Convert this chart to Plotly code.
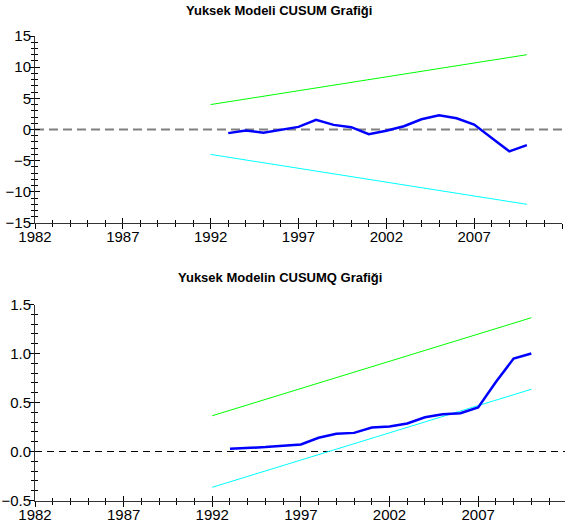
import plotly.graph_objects as go

# ---- data ----
years = list(range(1993, 2011))
cusum = [-0.58, -0.16, -0.53, -0.05, 0.42, 1.54, 0.74, 0.37, -0.74, -0.21,
         0.53, 1.65, 2.29, 1.81, 0.80, -1.36, -3.50, -2.50]
cusumsq = [0.028, 0.035, 0.045, 0.058, 0.071, 0.14, 0.18, 0.19, 0.245, 0.255,
           0.286, 0.35, 0.38, 0.39, 0.45, 0.71, 0.948, 1.0]

bound_years = [1992, 2010]
cusum_upper = [4, 12]
cusum_lower = [-4, -12]
cusumsq_upper = [0.365, 1.365]
cusumsq_lower = [-0.365, 0.635]

title_top = "Yuksek Modeli CUSUM Grafiği"
title_bottom = "Yuksek Modelin CUSUMQ Grafiği"

W, H = 565, 525
L, R = 35, 0
PW = W - L - R

fig = go.Figure()

# top
fig.add_trace(go.Scatter(x=bound_years, y=cusum_upper, mode="lines",
                         line=dict(color="#00FF00", width=1), xaxis="x", yaxis="y"))
fig.add_trace(go.Scatter(x=bound_years, y=cusum_lower, mode="lines",
                         line=dict(color="#00FFFF", width=1), xaxis="x", yaxis="y"))
fig.add_trace(go.Scatter(x=years, y=cusum, mode="lines",
                         line=dict(color="#0000FF", width=2.5), xaxis="x", yaxis="y"))
# bottom
fig.add_trace(go.Scatter(x=bound_years, y=cusumsq_upper, mode="lines",
                         line=dict(color="#00FF00", width=1), xaxis="x2", yaxis="y2"))
fig.add_trace(go.Scatter(x=bound_years, y=cusumsq_lower, mode="lines",
                         line=dict(color="#00FFFF", width=1), xaxis="x2", yaxis="y2"))
fig.add_trace(go.Scatter(x=years, y=cusumsq, mode="lines",
                         line=dict(color="#0000FF", width=2.5), xaxis="x2", yaxis="y2"))

# invisible carrier traces so that the tick-only overlay axes get drawn
for xa, ya, yv in [("x3", "y3", cusum), ("x5", "y5", cusum), ("x7", "y7", cusum),
                   ("x4", "y4", cusumsq), ("x6", "y6", cusumsq), ("x8", "y8", cusumsq)]:
    fig.add_trace(go.Scatter(x=years, y=yv, mode="lines", opacity=0,
                             line=dict(width=0.1, color="white"), hoverinfo="skip",
                             xaxis=xa, yaxis=ya))

# zero reference lines
fig.add_shape(type="line", xref="x domain", yref="y", x0=0, x1=1, y0=0, y1=0,
              line=dict(color="#808080", width=2, dash="9px,5px"), layer="below")
fig.add_shape(type="line", xref="x2 domain", yref="y2", x0=0, x1=1, y0=0, y1=0,
              line=dict(color="#000000", width=1, dash="7px,5px"), layer="below")

tickfont = dict(family="Liberation Sans, Arial, sans-serif", size=15, color="#000000")
AXC = "#000000"


def main_axis(**kw):
    d = dict(showline=True, linecolor="#333333", linewidth=1, showgrid=False,
             zeroline=False, ticks="outside", ticklen=5, tickcolor=AXC,
             tickwidth=1, tickfont=tickfont, automargin=False, fixedrange=True)
    d.update(kw)
    return d


def tick_axis(ticks, ticklen, **kw):
    d = dict(showline=False, showgrid=False, zeroline=False, ticks=ticks,
             ticklen=ticklen, tickcolor=AXC, tickwidth=1, showticklabels=False,
             automargin=False, fixedrange=True)
    d.update(kw)
    return d


top_dom = [(H - 223) / H, (H - 36) / H]
bot_dom = [(H - 500.5) / H, (H - 304.5) / H]
top_xdom = [0, (562 - L) / PW]
bot_xdom = [0, 1]

xr_top = [1982, 2012]
xr_bot = [1982, 2011.9]
yr_top = [-15, 15]
yr_bot = [-0.5, 1.5]

fig.update_layout(
    width=W, height=H,
    margin=dict(l=L, r=R, t=0, b=0),
    paper_bgcolor="white", plot_bgcolor="white",
    showlegend=False,
    # ---- top panel ----
    xaxis=main_axis(domain=top_xdom, anchor="y", range=xr_top, tick0=1982, dtick=5,
                    ticklabelstandoff=-5),
    yaxis=main_axis(domain=top_dom, anchor="x", range=yr_top, tick0=0, dtick=5,
                    ticklabelstandoff=-5),
    xaxis3=tick_axis("inside", 5, overlaying="x", anchor="y", range=xr_top, tick0=1982, dtick=5),
    yaxis3=tick_axis("inside", 5, overlaying="y", anchor="x", range=yr_top, tick0=0, dtick=5),
    xaxis5=tick_axis("outside", 3, overlaying="x", anchor="y", range=xr_top, tick0=1982, dtick=1),
    yaxis5=tick_axis("outside", 3, overlaying="y", anchor="x", range=yr_top, tick0=0, dtick=1),
    xaxis7=tick_axis("inside", 3, overlaying="x", anchor="y", range=xr_top, tick0=1982, dtick=1),
    yaxis7=tick_axis("inside", 3, overlaying="y", anchor="x", range=yr_top, tick0=0, dtick=1),
    # ---- bottom panel ----
    xaxis2=main_axis(domain=bot_xdom, anchor="y2", range=xr_bot, tick0=1982, dtick=5,
                     ticklabelstandoff=-5),
    yaxis2=main_axis(domain=bot_dom, anchor="x2", range=yr_bot, tick0=0, dtick=0.5,
                     ticklabelstandoff=-5, tickformat=".1f"),
    xaxis4=tick_axis("inside", 5, overlaying="x2", anchor="y2", range=xr_bot, tick0=1982, dtick=5),
    yaxis4=tick_axis("inside", 5, overlaying="y2", anchor="x2", range=yr_bot, tick0=0, dtick=0.5),
    xaxis6=tick_axis("outside", 3, overlaying="x2", anchor="y2", range=xr_bot, tick0=1982, dtick=1),
    yaxis6=tick_axis("outside", 3, overlaying="y2", anchor="x2", range=yr_bot, tick0=0, dtick=0.1),
    xaxis8=tick_axis("inside", 3, overlaying="x2", anchor="y2", range=xr_bot, tick0=1982, dtick=1),
    yaxis8=tick_axis("inside", 3, overlaying="y2", anchor="x2", range=yr_bot, tick0=0, dtick=0.1),
)

titlefont = dict(family="Liberation Sans, Arial, sans-serif", size=13, color="#000000")
fig.add_annotation(text="<b>" + title_top + "</b>", xref="paper", yref="paper",
                   x=(279 - L) / PW, y=(H - 11) / H, showarrow=False,
                   xanchor="center", yanchor="middle", font=titlefont)
fig.add_annotation(text="<b>" + title_bottom + "</b>", xref="paper", yref="paper",
                   x=(280 - L) / PW, y=(H - 277) / H, showarrow=False,
                   xanchor="center", yanchor="middle", font=titlefont)

fig.write_html(
    "out.html",
    config={"displayModeBar": False},
    post_script="document.body.style.margin='0px';document.body.style.overflow='hidden';",
)
